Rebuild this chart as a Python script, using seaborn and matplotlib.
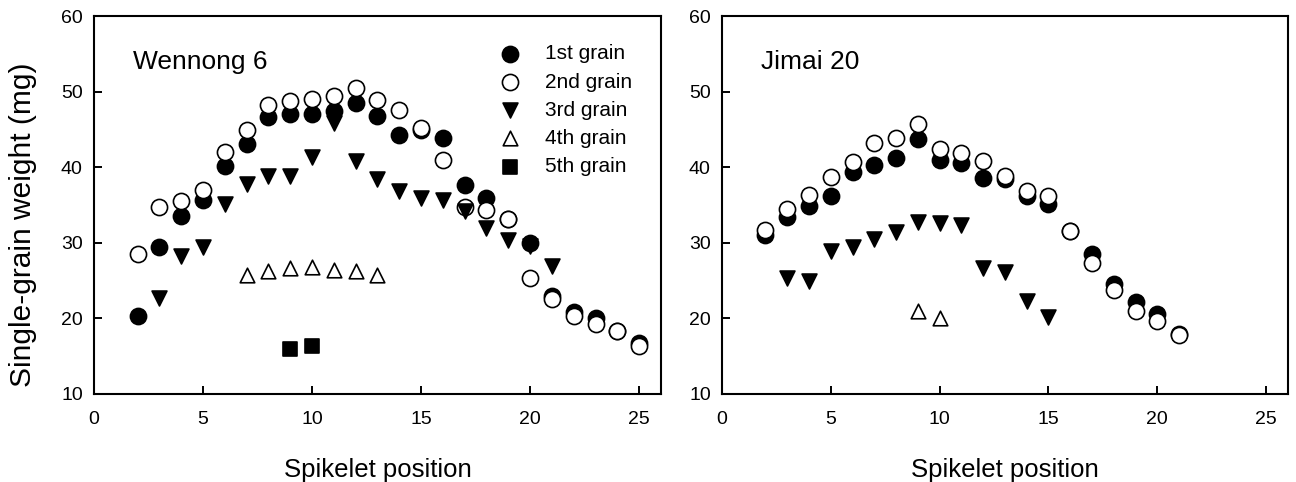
import pandas as pd
import seaborn as sns
import matplotlib.pyplot as plt

sns.set_theme(style="ticks")
plt.rcParams['font.family'] = ['Liberation Sans', 'DejaVu Sans']
plt.rcParams['text.color'] = 'black'
plt.rcParams['axes.labelcolor'] = 'black'

# Wennong 6
w_pos_1 = list(range(2, 26))
w_1st = [20.3, 29.4, 33.5, 35.7, 40.2, 43.1, 46.7, 47.1, 47.1, 47.4, 48.5, 46.8,
         44.2, 44.9, 43.9, 37.6, 35.9, 33.2, 30.0, 22.9, 20.8, 20.1, 18.3, 16.8]
w_2nd = [28.5, 34.8, 35.5, 37.0, 42.0, 44.9, 48.2, 48.8, 49.0, 49.4, 50.5, 48.9,
         47.6, 45.2, 41.0, 34.8, 34.3, 33.2, 25.4, 22.5, 20.3, 19.2, 18.3, 16.3]
w_pos_3 = list(range(3, 22))
w_3rd = [22.7, 28.2, 29.4, 35.1, 37.8, 38.8, 38.9, 41.3, 45.8, 40.8, 38.4, 36.9,
         35.9, 35.7, 34.2, 32.0, 30.4, 29.6, 26.9]
w_pos_4 = list(range(7, 14))
w_4th = [25.7, 26.3, 26.7, 26.8, 26.4, 26.3, 25.8]
w_pos_5 = [9, 10]
w_5th = [15.9, 16.3]

# Jimai 20
j_pos_1 = list(range(2, 22))
j_1st = [31.0, 33.4, 34.9, 36.2, 39.4, 40.3, 41.2, 43.7, 40.9, 40.6, 38.6, 38.4,
         36.2, 35.1, 31.5, 28.5, 24.5, 22.2, 20.6, 18.0]
j_2nd = [31.7, 34.5, 36.3, 38.7, 40.7, 43.2, 43.9, 45.7, 42.4, 41.9, 40.8, 38.9,
         36.9, 36.2, 31.5, 27.3, 23.8, 21.0, 19.6, 17.8]
j_pos_3 = list(range(3, 16))
j_3rd = [25.3, 24.9, 28.9, 29.4, 30.5, 31.4, 32.7, 32.6, 32.3, 26.7, 26.2, 22.3, 20.2]
j_pos_4 = [9, 10]
j_4th = [21.0, 20.1]

grain_labels = ["1st grain", "2nd grain", "3rd grain", "4th grain", "5th grain"]
markers = ["o", "o", "v", "^", "s"]
faces = ["black", "white", "black", "white", "black"]
sizes = [135, 135, 115, 110, 105]

fig = plt.figure(figsize=(12.96, 4.82), dpi=100)
ax1 = fig.add_axes([0.0725, 0.1826, 0.4375, 0.7842])
ax2 = fig.add_axes([0.557, 0.1826, 0.4368, 0.7842])

panels = [
    (ax1, "Wennong 6", [(w_pos_1, w_1st), (w_pos_1, w_2nd), (w_pos_3, w_3rd),
                        (w_pos_4, w_4th), (w_pos_5, w_5th)]),
    (ax2, "Jimai 20", [(j_pos_1, j_1st), (j_pos_1, j_2nd), (j_pos_3, j_3rd),
                       (j_pos_4, j_4th)]),
]

for ax, title, series in panels:
    for i, (xs, ys) in enumerate(series):
        sns.scatterplot(x=xs, y=ys, ax=ax, marker=markers[i], s=sizes[i],
                        color=faces[i], edgecolor="black", linewidth=1.2,
                        label=grain_labels[i], zorder=3 + i)
    ax.set_xlim(0, 26)
    ax.set_ylim(10, 60)
    ax.set_xticks([0, 5, 10, 15, 20, 25])
    ax.set_yticks([10, 20, 30, 40, 50, 60])
    ax.tick_params(direction="in", length=6, width=1.4, labelsize=14,
                   colors="black")
    ax.tick_params(axis="x", pad=12.5)
    ax.tick_params(axis="y", pad=8)
    for sp in ax.spines.values():
        sp.set_linewidth(1.5)
        sp.set_color("black")
    ax.set_xlabel("Spikelet position", fontsize=18.5, labelpad=21)
    ax.text(0.069, 0.878, title, transform=ax.transAxes, fontsize=19,
            va="center", ha="left")

ax1.set_ylabel("Single-grain weight (mg)", fontsize=21.5)
ax1.yaxis.set_label_coords(-0.10, 0.447)
ax2.set_ylabel("")
ax2.get_legend().remove()
ax1.legend(loc="upper left", bbox_to_anchor=(0.70, 0.947), frameon=False,
           fontsize=15, handlelength=1.0, handletextpad=1.2, labelspacing=0.44,
           borderaxespad=0)

fig.savefig("out.png", dpi=100)
